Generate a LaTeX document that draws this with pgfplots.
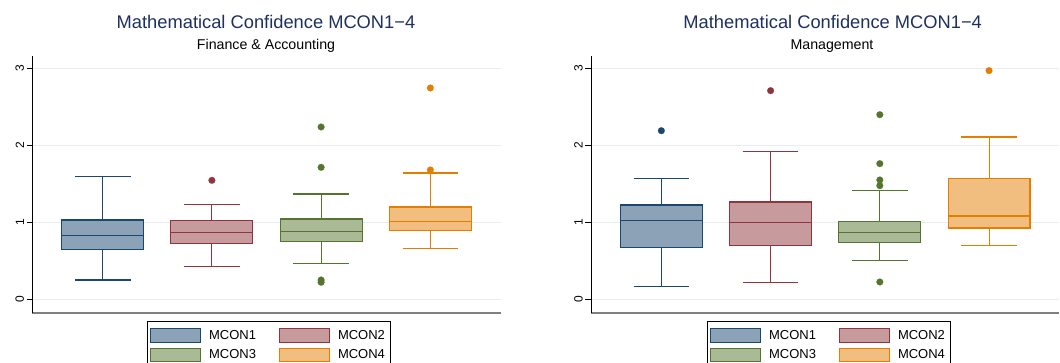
\documentclass[border=0pt]{standalone}
\usepackage{fontspec}
\setmainfont{Liberation Sans}
\usepackage{pgfplots}
\pgfplotsset{compat=1.18}
\usepgfplotslibrary{statistics}

\definecolor{cnavy}{RGB}{26,71,111}
\definecolor{cmaroon}{RGB}{144,53,59}
\definecolor{cgreen}{RGB}{85,117,47}
\definecolor{corange}{RGB}{227,126,0}
\definecolor{ctitle}{RGB}{30,48,95}
\definecolor{cgrid}{RGB}{230,238,240}

\pgfplotsset{
  panel/.style={
    scale only axis, width=468.4bp, height=257bp,
    xmin=0.356, xmax=4.644, ymin=-0.174, ymax=3.164,
    xtick=\empty, ytick={0,1,2,3},
    axis x line*=bottom, axis y line*=left,
    x axis line style={-, draw=black!50, line width=2.2bp},
    y axis line style={-, draw=black, line width=0.8bp},
    tick align=outside, major tick length=5.6bp,
    tick style={black, line width=0.7bp},
    ymajorgrids, major grid style={draw=cgrid, line width=0.8bp},
    /pgf/number format/assume math mode=true,
    yticklabel style={font=\fontsize{12bp}{12bp}\selectfont, rotate=90, anchor=south, inner sep=2.5bp},
    legend columns=2,
    legend cell align=left,
    legend style={draw=black, line width=0.8bp, font=\fontsize{13bp}{15bp}\selectfont,
      anchor=north west, inner xsep=3bp, inner ysep=7bp, row sep=4.9bp,
      /tikz/every odd column/.append style={column sep=6bp},
      /tikz/every even column/.append style={column sep=21bp}},
    legend image code/.code={\draw[##1] (0bp,-6.7bp) rectangle (50bp,6.7bp);},
    boxplot/draw direction=y,
    boxplot/box extend=0.75,
    boxplot/whisker extend=0.51,
  },
  bx/.style={forget plot, solid, draw=#1, fill=#1!50, line width=1.1bp,
    mark=*, mark size=3.4bp, mark options={draw=#1, fill=#1, line width=0.1bp}},
  sw/.style={draw=#1, fill=#1!50, line width=1bp},
}

\begin{document}
\begin{tikzpicture}

% ---------- Finance & Accounting ----------
\begin{axis}[panel, at={(32.3bp,50.3bp)}, anchor=south west,
  legend style={at={(axis description cs:0.2442,-0.0323)}}]
\addplot[bx=cnavy, boxplot prepared={draw position=1,
  lower whisker=0.251, lower quartile=0.649, median=0.831,
  upper quartile=1.030, upper whisker=1.593}] coordinates {};
\addplot[bx=cmaroon, boxplot prepared={draw position=2,
  lower whisker=0.424, lower quartile=0.727, median=0.866,
  upper quartile=1.022, upper whisker=1.229}]
  table[row sep=\\, y index=0] {data\\ 1.545\\};
\addplot[bx=cgreen, boxplot prepared={draw position=3,
  lower whisker=0.468, lower quartile=0.753, median=0.879,
  upper quartile=1.043, upper whisker=1.368}]
  table[row sep=\\, y index=0] {data\\ 2.238\\ 1.714\\ 0.251\\ 0.221\\};
\addplot[bx=corange, boxplot prepared={draw position=4,
  lower whisker=0.654, lower quartile=0.896, median=1.013,
  upper quartile=1.199, upper whisker=1.641}]
  table[row sep=\\, y index=0] {data\\ 2.745\\ 1.680\\};
\addlegendimage{sw=cnavy}   \addlegendentry{MCON1}
\addlegendimage{sw=cmaroon} \addlegendentry{MCON2}
\addlegendimage{sw=cgreen}  \addlegendentry{MCON3}
\addlegendimage{sw=corange} \addlegendentry{MCON4}
\end{axis}

% ---------- Management ----------
\begin{axis}[panel, at={(591bp,50.3bp)}, anchor=south west,
  legend style={at={(axis description cs:0.247,-0.0323)}}]
\addplot[bx=cnavy, boxplot prepared={draw position=1,
  lower whisker=0.165, lower quartile=0.671, median=1.026,
  upper quartile=1.225, upper whisker=1.571}]
  table[row sep=\\, y index=0] {data\\ 2.190\\};
\addplot[bx=cmaroon, boxplot prepared={draw position=2,
  lower whisker=0.216, lower quartile=0.697, median=0.996,
  upper quartile=1.264, upper whisker=1.922}]
  table[row sep=\\, y index=0] {data\\ 2.710\\};
\addplot[bx=cgreen, boxplot prepared={draw position=3,
  lower whisker=0.502, lower quartile=0.736, median=0.870,
  upper quartile=1.009, upper whisker=1.411}]
  table[row sep=\\, y index=0] {data\\ 2.398\\ 1.762\\ 1.550\\ 1.476\\ 0.225\\};
\addplot[bx=corange, boxplot prepared={draw position=4,
  lower whisker=0.697, lower quartile=0.926, median=1.082,
  upper quartile=1.571, upper whisker=2.108}]
  table[row sep=\\, y index=0] {data\\ 2.970\\};
\addlegendimage{sw=cnavy}   \addlegendentry{MCON1}
\addlegendimage{sw=cmaroon} \addlegendentry{MCON2}
\addlegendimage{sw=cgreen}  \addlegendentry{MCON3}
\addlegendimage{sw=corange} \addlegendentry{MCON4}
\end{axis}

% ---------- titles ----------
\begin{scope}[every node/.style={anchor=base, inner sep=0pt}]
\node[font=\fontsize{18.3bp}{20bp}\selectfont, text=ctitle] at (266bp,334.7bp) {Mathematical Confidence MCON1−4};
\node[font=\fontsize{14.2bp}{16bp}\selectfont] at (266bp,313.7bp) {Finance \& Accounting};
\node[font=\fontsize{18.3bp}{20bp}\selectfont, text=ctitle] at (832.7bp,334.7bp) {Mathematical Confidence MCON1−4};
\node[font=\fontsize{14.2bp}{16bp}\selectfont] at (832bp,313.7bp) {Management};
\end{scope}

\pgfresetboundingbox
\path[use as bounding box] (0,0) rectangle (1060bp,363bp);
\end{tikzpicture}
\end{document}
